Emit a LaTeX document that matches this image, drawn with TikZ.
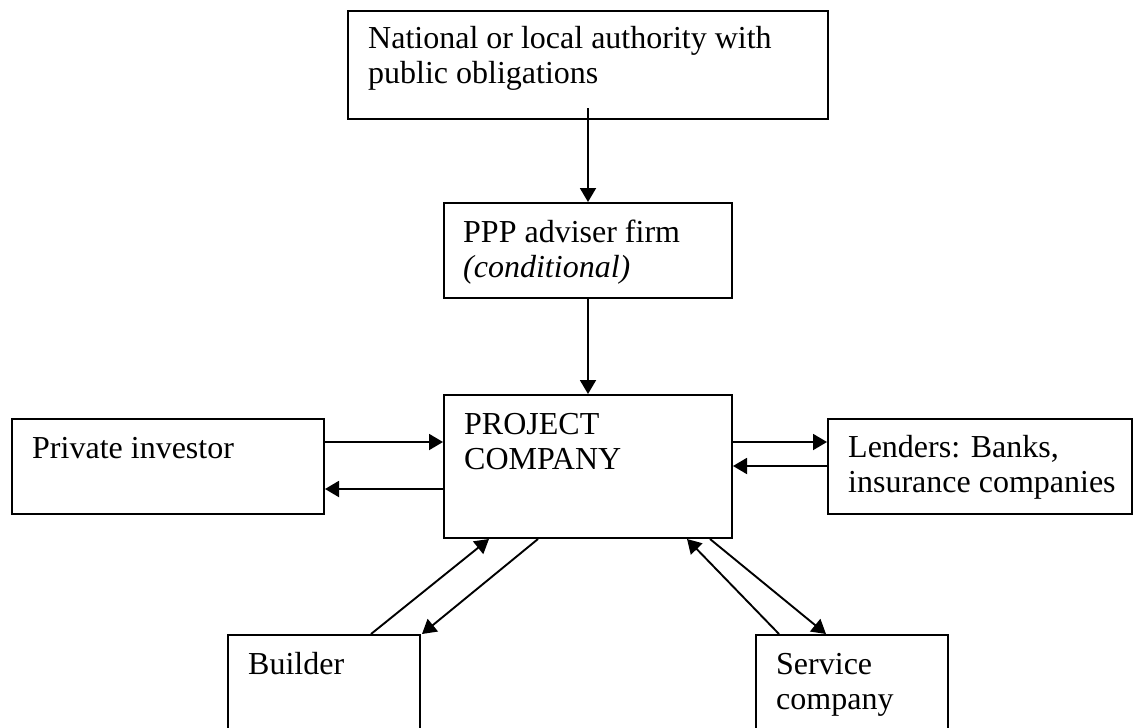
\documentclass[tikz,border=0pt]{standalone}
\usepackage{fontspec}
\setmainfont{Liberation Serif}
\usetikzlibrary{arrows.meta,calc}
\tikzset{
  box/.style={draw, line width=2pt, inner sep=0pt, anchor=north west},
  txt/.style={inner sep=0pt, anchor=base west, font=\fontsize{32}{35.5}\selectfont},
  arr/.style={line width=1.9pt, -{Triangle[length=14pt,width=16pt]}}
}
\begin{document}
\begin{tikzpicture}[x=1pt,y=-1pt]
\useasboundingbox (0,0) rectangle (1133,728);
\clip (0,0) rectangle (1133,728);
\fill[white] (0,0) rectangle (1133,728);
% boxes
\node[box, minimum width=480pt, minimum height=108pt] (auth) at (347,10) {};
\node[box, minimum width=288pt, minimum height=95pt] (ppp) at (443,202) {};
\node[box, minimum width=288pt, minimum height=143pt] (proj) at (443,394) {};
\node[box, minimum width=312pt, minimum height=95pt] (priv) at (11,418) {};
\node[box, minimum width=304pt, minimum height=95pt] (lend) at (827,418) {};
\node[box, minimum width=192pt, minimum height=110pt] (build) at (227,634) {};
\node[box, minimum width=192pt, minimum height=110pt] (serv) at (755,634) {};
% texts
\node[txt] (authT) at ($(auth.north west)+(21,38)$) {\parbox[t]{470pt}{National or local authority with\\public obligations}};
\node[txt] (pppT) at ($(ppp.north west)+(20,40)$) {\parbox[t]{280pt}{PPP adviser firm\\\textit{(conditional)}}};
\node[txt] (projT) at ($(proj.north west)+(21,40)$) {\parbox[t]{280pt}{PROJECT\\COMPANY}};
\node[txt] (privT) at ($(priv.north west)+(21,40)$) {Private investor};
\node[txt] (lendT) at ($(lend.north west)+(21,39)$) {\parbox[t]{300pt}{Lenders: Banks,\\insurance companies}};
\node[txt] (buildT) at ($(build.north west)+(21,40)$) {Builder};
\node[txt] (servT) at ($(serv.north west)+(21,40)$) {\parbox[t]{190pt}{Service\\company}};
% connectors
\coordinate (a1) at ($(auth.south)+(0,-12)$);
\draw[arr] (a1 -| ppp.north) -- (ppp.north -| a1);
\draw[arr] (ppp.south -| a1) -- (proj.north -| a1);
\coordinate (h1) at ($(priv.north east)+(0,24)$);
\coordinate (h2) at ($(priv.north east)+(0,71)$);
\draw[arr] (h1) -- (h1 -| proj.west);
\draw[arr] (h2 -| proj.west) -- (h2);
\coordinate (l1) at ($(lend.north west)+(0,24)$);
\coordinate (l2) at ($(lend.north west)+(0,48)$);
\draw[arr] (l1 -| proj.east) -- (l1);
\draw[arr] (l2) -- (l2 -| proj.east);
\draw[arr] ($(build.north west)+(144,0)$) -- ($(proj.south west)+(46,0)$);
\draw[arr] ($(proj.south west)+(95,0)$) -- ($(build.north east)+(1,0)$);
\draw[arr] ($(serv.north west)+(24,0)$) -- ($(proj.south east)+(-46,0)$);
\draw[arr] ($(proj.south east)+(-23,0)$) -- ($(serv.north west)+(71,0)$);
\end{tikzpicture}
\end{document}
